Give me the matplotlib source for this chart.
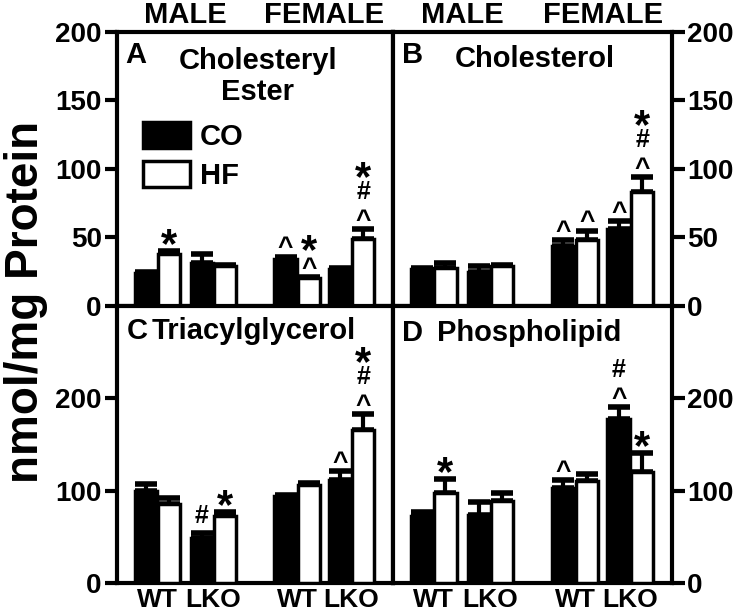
import numpy as np
import matplotlib.pyplot as plt
from matplotlib.patches import Patch
from matplotlib.transforms import blended_transform_factory

plt.rcParams['font.family'] = ['Liberation Sans', 'DejaVu Sans']
plt.rcParams['font.weight'] = 'bold'

genotypes = ['WT', 'LKO', 'WT', 'LKO']    # male WT, male LKO, female WT, female LKO
sexes = ['MALE', 'FEMALE']

# A  cholesteryl ester
ce_co = [24, 31, 34, 27]
ce_co_err = [1, 7, 2, 1]
ce_hf = [38, 29, 20, 49]
ce_hf_err = [2, 1, 1, 7]
# B  cholesterol
ch_co = [27, 25, 44, 56]
ch_co_err = [1, 4, 4, 6]
ch_hf = [28, 29, 48, 83]
ch_hf_err = [3, 1, 7, 11]
# C  triacylglycerol
tg_co = [100, 49, 94, 111]
tg_co_err = [7, 5, 1, 10]
tg_hf = [85, 73, 106, 166]
tg_hf_err = [7, 4, 2, 17]
# D  phospholipid
pl_co = [72, 74, 103, 177]
pl_co_err = [5, 14, 8, 13]
pl_hf = [97, 89, 110, 120]
pl_hf_err = [16, 8, 8, 21]

# significance marks: (diet, group index, symbols from bottom to top)
ce_marks = [('HF', 0, '*'), ('CO', 2, '^'), ('HF', 2, '^*'), ('HF', 3, '^#*')]
ch_marks = [('CO', 2, '^'), ('HF', 2, '^'), ('CO', 3, '^'), ('HF', 3, '^#*')]
tg_marks = [('CO', 1, '#'), ('HF', 1, '*'), ('CO', 3, '^'), ('HF', 3, '^#*')]
pl_marks = [('HF', 0, '*'), ('CO', 2, '^'), ('CO', 3, '^#'), ('HF', 3, '*')]

co_x = np.array([1.3, 3.82, 7.58, 10.03])
hf_x = co_x + 1.04
grp_x = (co_x + hf_x) / 2

# glyph: fontsize, ink bottom (fraction of em), ink height px
glyphs = {'*': (30, 0.39, 14), '#': (18, -0.01, 15), '^': (19, 0.33, 10)}

fig = plt.figure(figsize=(7.41, 6.13), dpi=100)
L, M, R = 0.158, 0.530, 0.907
B, Mid, T = 0.049, 0.501, 0.948
axA = fig.add_axes([L, Mid, M - L, T - Mid])
axB = fig.add_axes([M, Mid, R - M, T - Mid])
axC = fig.add_axes([L, B, M - L, Mid - B])
axD = fig.add_axes([M, B, R - M, Mid - B])

panels = [(axA, ce_co, ce_co_err, ce_hf, ce_hf_err, ce_marks, 200),
          (axB, ch_co, ch_co_err, ch_hf, ch_hf_err, ch_marks, 200),
          (axC, tg_co, tg_co_err, tg_hf, tg_hf_err, tg_marks, 300),
          (axD, pl_co, pl_co_err, pl_hf, pl_hf_err, pl_marks, 300)]

for ax, co, co_err, hf, hf_err, marks, top in panels:
    ax.bar(co_x, co, width=1.0, color='black', edgecolor='black', linewidth=2.5, zorder=3)
    ax.bar(hf_x, hf, width=1.0, color='white', edgecolor='black', linewidth=2.5, zorder=3)
    for xs, ys, es in ((co_x, co, co_err), (hf_x, hf, hf_err)):
        ax.errorbar(xs, ys, yerr=[np.zeros(4), es], fmt='none', ecolor='black',
                    elinewidth=3, capsize=8, capthick=4, zorder=2)
    for diet, i, syms in marks:
        if diet == 'CO':
            x, y = co_x[i], co[i] + co_err[i]
        else:
            x, y = hf_x[i], hf[i] + hf_err[i]
        start = 10
        for s in syms:
            size, bfrac, h = glyphs[s]
            base = start - bfrac * size * 100 / 72
            ax.annotate(s, (x, y), xytext=(0, base * 72 / 100), textcoords='offset points',
                        ha='center', va='baseline', fontsize=size, fontweight='bold')
            start += h + 10
    ax.set_xlim(0, 12.4)
    ax.set_ylim(0, top)
    ax.set_xticks([])
    if top == 200:
        ax.set_yticks([0, 50, 100, 150, 200])
    else:
        ax.set_yticks([0, 100, 200])
    for sp in ax.spines.values():
        sp.set_linewidth(3)
    ax.tick_params(axis='y', direction='out', length=9, width=3, labelsize=20, pad=2)

axB.yaxis.tick_right()
axD.yaxis.tick_right()

# sex labels on top, genotype labels at bottom
for ax in (axA, axB):
    tr = blended_transform_factory(ax.transData, ax.transAxes)
    for j, s in enumerate(sexes):
        ax.text(grp_x[2 * j:2 * j + 2].mean(), 1.031, s, transform=tr, ha='center',
                va='baseline', fontsize=21, fontweight='bold')
for ax in (axC, axD):
    tr = blended_transform_factory(ax.transData, ax.transAxes)
    for j, g in enumerate(genotypes):
        ax.text(grp_x[j], -0.085, g, transform=tr, ha='center', va='baseline',
                fontsize=19, fontweight='bold')

# panel letters and titles
axA.text(0.068, 0.887, 'A', transform=axA.transAxes, ha='center', va='baseline', fontsize=21)
axA.text(0.51, 0.752, 'Cholesteryl\nEster', transform=axA.transAxes, ha='center',
         va='baseline', fontsize=21, linespacing=1.15, multialignment='center')
axB.text(0.07, 0.887, 'B', transform=axB.transAxes, ha='center', va='baseline', fontsize=21)
axB.text(0.51, 0.872, 'Cholesterol', transform=axB.transAxes, ha='center', va='baseline', fontsize=21)
axC.text(0.072, 0.88, 'C', transform=axC.transAxes, ha='center', va='baseline', fontsize=21)
axC.text(0.125, 0.88, 'Triacylglycerol', transform=axC.transAxes, ha='left', va='baseline', fontsize=21)
axD.text(0.07, 0.873, 'D', transform=axD.transAxes, ha='center', va='baseline', fontsize=21)
axD.text(0.16, 0.873, 'Phospholipid', transform=axD.transAxes, ha='left', va='baseline', fontsize=21)

handles = [Patch(facecolor='black', edgecolor='black', linewidth=2.5),
           Patch(facecolor='white', edgecolor='black', linewidth=2.5)]
axA.legend(handles, ['CO', 'HF'], loc='upper left', bbox_to_anchor=(0.094, 0.672),
           frameon=False, borderpad=0, borderaxespad=0, handlelength=1.6, handleheight=1.0,
           handletextpad=0.35, labelspacing=0.35, prop={'size': 21, 'weight': 'bold'})

fig.text(0.035, 0.507, 'nmol/mg Protein', rotation=90, ha='center', va='center',
         fontsize=33, fontweight='bold')

fig.savefig('out.png', dpi=100)
